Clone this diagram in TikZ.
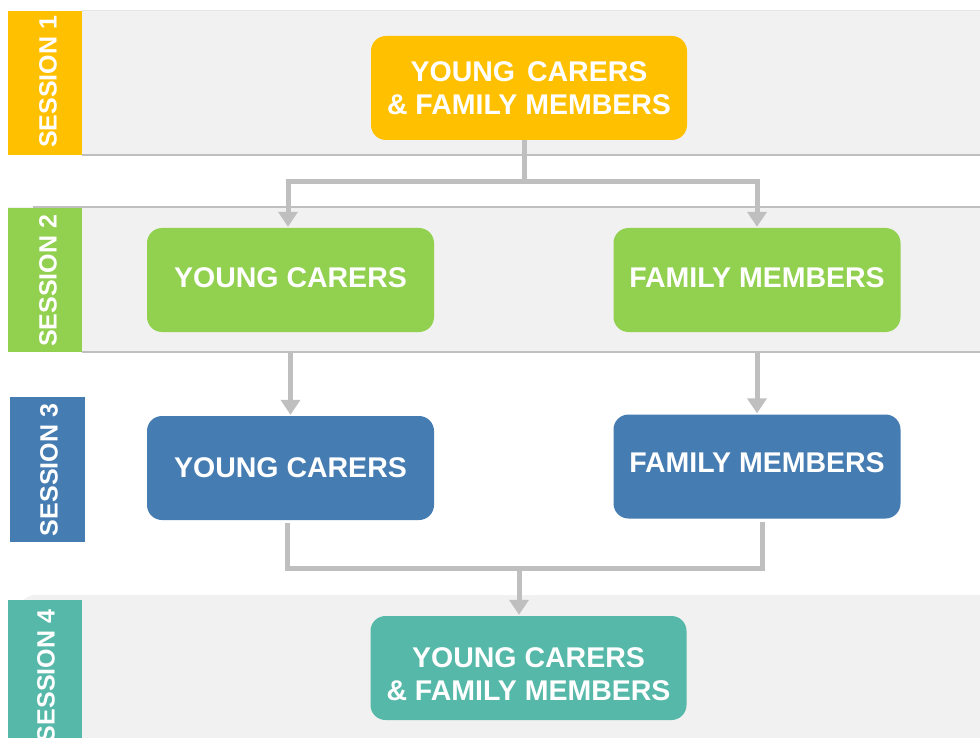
\documentclass[tikz,border=0pt]{standalone}
\usepackage{fontspec}
\setmainfont{Liberation Sans}
\usetikzlibrary{arrows.meta,positioning,calc}
\definecolor{sorange}{HTML}{FFC000}
\definecolor{sgreen}{HTML}{92D050}
\definecolor{sblue}{HTML}{457CB2}
\definecolor{steal}{HTML}{55B8A8}
\definecolor{bandgrey}{HTML}{F1F1F1}
\definecolor{lineg}{HTML}{BFBFBF}
\tikzset{
  band/.style={fill=bandgrey, draw=none},
  bandline/.style={draw=lineg, line width=1.5pt},
  sesslabel/.style={text=white, font=\fontsize{25}{28}\selectfont\bfseries, rotate=90, inner sep=0pt},
  box/.style={rounded corners=15pt, draw=none, inner sep=0pt, text=white,
    font=\fontsize{28.5}{33}\selectfont\bfseries, align=center,
    minimum width=287pt, minimum height=104pt},
  widebox/.style={box, minimum width=316pt},
  conn/.style={draw=lineg, line width=5pt, line join=miter},
  connarrow/.style={conn, -{Triangle[width=19pt,length=15pt]}}
}
\begin{document}
\begin{tikzpicture}[x=1pt,y=-1pt]
\useasboundingbox (0,0) rectangle (980,738);
\fill[white] (0,0) rectangle (980,738);
% bands
\fill[band] (8,11) rectangle (980,155);
\draw[draw=lineg!40, line width=1pt] (82,11) -- (980,11);
\draw[bandline] (82,155) -- (980,155);
\fill[band] (8,207) rectangle (980,352);
\draw[bandline] (33,207) -- (980,207);
\draw[bandline] (82,352) -- (980,352);
\fill[band, rounded corners=15pt] (20,595) rectangle (1000,760);
% session bars
\fill[sorange] (8,11) rectangle (82,155);
\fill[sgreen] (8,208) rectangle (82,352);
\fill[sblue] (10,397) rectangle (85,542);
\fill[steal] (8,600) rectangle (82,760);
\node[sesslabel] (l1) at (48,82) {SESSION 1};
\node[sesslabel] (l2) at (48,281) {SESSION 2};
\node[sesslabel] (l3) at (49,470) {SESSION 3};
\node[sesslabel] (l4) at (46,676) {SESSION 4};
% nodes
\node[widebox, fill=sorange] (n1) at (529,88) {YOUNG\hspace{4pt} CARERS\\\& FAMILY MEMBERS};
\node[box, fill=sgreen] (n2l) at (290.5,280) {\raisebox{2pt}[\height][\depth]{YOUNG CARERS}};
\node[box, fill=sgreen] (n2r) at (757,280) {\raisebox{2pt}[\height][\depth]{FAMILY MEMBERS}};
\node[box, fill=sblue] (n3l) at (290.5,468) {YOUNG CARERS};
\node[box, fill=sblue] (n3r) at (757,466.5) {\raisebox{4pt}[\height][\depth]{FAMILY MEMBERS}};
\node[widebox, fill=steal] (n4) at (528.5,668) {\raisebox{-9.5pt}[\height][\depth]{\begin{tabular}{@{}c@{}}YOUNG CARERS\\\& FAMILY MEMBERS\end{tabular}}};
% connectors
\coordinate (j1) at (524,182);
\draw[conn] ([xshift=-5pt]n1.south) -- (j1);
\draw[connarrow] (j1) -| ([xshift=-2.5pt,yshift=1pt]n2l.north);
\draw[connarrow] (j1) -| ([yshift=1pt]n2r.north);
\draw[connarrow] ([yshift=-20pt]n2l.south) -- ([yshift=1pt]n3l.north);
\draw[connarrow] ([yshift=-20pt]n2r.south) -- ([yshift=1pt]n3r.north);
\coordinate (j4) at (519,568);
\draw[conn] ([xshift=-3.5pt,yshift=-3pt]n3l.south) |- (j4) -| ([xshift=5pt,yshift=-3pt]n3r.south);
\draw[connarrow] (j4) -- ([yshift=1pt]j4 |- n4.north);
\end{tikzpicture}
\end{document}
